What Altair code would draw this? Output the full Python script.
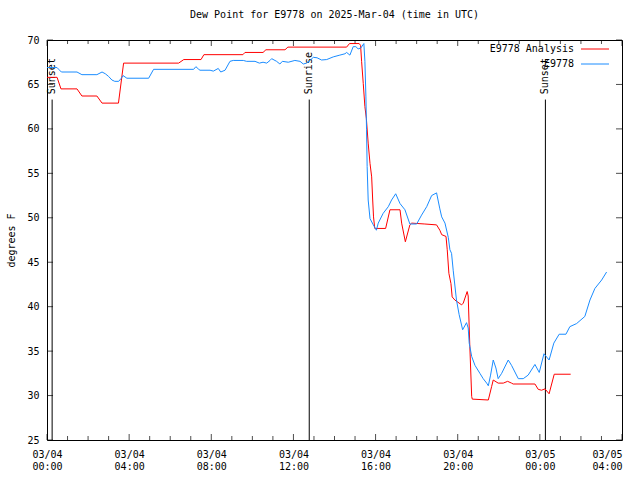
import altair as alt
import pandas as pd

BASE = pd.Timestamp("2025-03-04T00:00:00Z")


def ms(h):
    return int((BASE + pd.Timedelta(hours=h)).value // 10**6)


FONT = "DejaVu Sans Mono"

# ---- data (hours after 2025-03-04 00:00 UTC, dew point degF) ----
red_hours = [0.00, 0.49, 0.68, 1.46, 1.70, 2.43, 2.68, 3.48, 3.73, 6.41, 6.66, 7.50, 7.64,
             9.54, 9.64, 10.52, 10.66, 11.59, 11.73, 14.59, 14.73, 15.20, 15.27, 15.32,
             15.40, 15.48, 15.55, 15.64, 15.73, 15.81, 15.86, 15.90, 15.96, 16.49, 16.70,
             17.19, 17.27, 17.45, 17.67, 17.76, 18.40, 18.97, 19.13, 19.22, 19.43, 19.49,
             19.57, 19.67, 19.73, 19.86, 20.19, 20.27, 20.46, 20.51, 20.59, 20.68, 20.71,
             21.49, 21.65, 21.73, 21.97, 22.22, 22.43, 22.62, 22.70, 23.76, 23.92, 24.08,
             24.25, 24.45, 24.70, 25.50]
red_vals = [65.8, 65.8, 64.5, 64.5, 63.7, 63.7, 62.9, 62.9, 67.4, 67.4, 67.8, 67.8, 68.35,
            68.35, 68.6, 68.6, 68.9, 68.9, 69.2, 69.2, 69.6, 69.6, 69.4, 67.6,
            65.1, 62.5, 61.2, 58.4, 56.1, 54.6, 52.0, 50.1, 48.8, 48.8, 50.9,
            50.9, 49.4, 47.3, 49.2, 49.4, 49.3, 49.2, 48.6, 48.1, 47.9, 46.4,
            43.75, 42.6, 41.1, 40.75, 40.2, 40.4, 41.7, 41.2, 35.5, 29.9, 29.6,
            29.5, 31.0, 31.75, 31.4, 31.4, 31.6, 31.4, 31.3, 31.3, 30.7, 30.6,
            30.75, 30.2, 32.4, 32.4]

blue_hours = [0.00, 0.49, 0.57, 0.70, 1.46, 1.70, 2.43, 2.68, 2.84, 3.00, 3.16, 3.30, 3.49,
              3.62, 3.70, 3.89, 4.95, 5.19, 7.14, 7.25, 7.39, 7.45, 7.94, 8.10, 8.34, 8.46,
              8.67, 8.91, 9.07, 9.56, 9.72, 10.13, 10.34, 10.52, 10.70, 10.86, 10.94, 11.18,
              11.34, 11.46, 11.75, 12.07, 12.32, 12.48, 12.64, 12.80, 12.97, 13.15, 13.37,
              13.62, 13.94, 14.26, 14.51, 14.59, 14.75, 14.91, 15.04, 15.15, 15.28, 15.43,
              15.48, 15.53, 15.56, 15.59, 15.64, 15.73, 15.89, 16.04, 16.13, 16.37, 16.62,
              16.78, 16.98, 17.19, 17.43, 17.67, 18.00, 18.24, 18.49, 18.73, 18.97, 19.13,
              19.22, 19.38, 19.54, 19.62, 19.70, 19.78, 19.94, 20.07, 20.24, 20.43, 20.51,
              20.56, 20.68, 20.84, 21.08, 21.24, 21.41, 21.49, 21.60, 21.73, 21.86, 21.97,
              22.14, 22.46, 22.62, 22.95, 23.19, 23.43, 23.76, 23.97, 24.20, 24.45, 24.68,
              24.94, 25.27, 25.46, 25.79, 26.19, 26.44, 26.68, 27.01, 27.25]
blue_vals = [66.9, 66.9, 66.7, 66.4, 66.4, 66.1, 66.1, 66.4, 66.2, 65.9, 65.5, 65.35, 65.35,
             65.7, 66.0, 65.7, 65.7, 66.7, 66.7, 67.0, 66.7, 66.6, 66.6, 66.5, 66.8, 66.4,
             66.6, 67.6, 67.7, 67.7, 67.6, 67.6, 67.4, 67.5, 67.4, 67.7, 67.9, 67.6,
             67.3, 67.6, 67.5, 67.7, 67.6, 67.3, 67.4, 67.7, 68.05, 68.0, 67.75,
             67.8, 68.1, 68.3, 68.45, 68.6, 68.3, 69.25, 69.25, 69.0, 69.1, 69.6,
             67.6, 63.6, 59.9, 55.75, 52.0, 49.9, 49.2, 48.6, 49.4, 50.5, 51.25,
             52.0, 52.7, 51.6, 50.9, 49.3, 49.3, 50.3, 51.25, 52.5, 52.8, 51.0,
             50.1, 49.4, 47.8, 46.4, 46.0, 44.1, 40.75, 39.1, 37.4, 38.2, 37.6,
             35.9, 34.4, 33.4, 32.5, 31.9, 31.4, 31.1, 32.3, 34.0, 33.1, 31.9,
             32.5, 34.0, 33.4, 31.9, 31.9, 32.3, 33.5, 32.6, 34.7, 34.0, 35.9,
             36.9, 36.9, 37.75, 38.1, 38.9, 40.75, 42.05, 43.0, 43.9]

series_names = ["E9778 Analysis", "E9778"]
series_colors = ["#ff0000", "#1a8cff"]

event_hours = [0.25, 12.77, 24.27]
event_labels = ["Sunset", "Sunrise", "Sunset"]

x_start_h, x_end_h = 0, 28
x_major_hours = list(range(0, 29, 4))
x_minor_hours = [h for h in range(0, 29) if h % 4]
y_ticks = list(range(25, 71, 5))
y_min, y_max = 25, 70
event_line_top = 63.3
event_text_base = 63.9

# ---- tables ----
lines = pd.concat([
    pd.DataFrame({"t": [ms(h) for h in red_hours], "v": red_vals, "series": series_names[0]}),
    pd.DataFrame({"t": [ms(h) for h in blue_hours], "v": blue_vals, "series": series_names[1]}),
])
events = pd.DataFrame({"t": [ms(h) for h in event_hours], "label": event_labels})
xmaj = pd.DataFrame({"t": [ms(h) for h in x_major_hours]})
xmin = pd.DataFrame({"t": [ms(h) for h in x_minor_hours]})
yt = pd.DataFrame({"v": y_ticks})

end_ms = ms(x_end_h)
xscale = alt.Scale(type="utc", domain=[ms(x_start_h), end_ms])
yscale = alt.Scale(domain=[y_min, y_max], nice=False, zero=False)

xaxis = alt.Axis(
    values=[ms(h) for h in x_major_hours],
    labelExpr="[utcFormat(datum.value, '%m/%d'), utcFormat(datum.value, '%H:%M')]",
    labelAlign={"condition": {"test": f"datum.value >= {end_ms}", "value": "right"}, "value": "center"},
    labelFont=FONT, labelFontSize=10, labelColor="black", labelLineHeight=12,
    labelPadding=9, labelBaseline="top", labelFlush=False, labelOverlap=False,
    ticks=False, domain=False, grid=False, title=None,
)
yaxis = alt.Axis(
    values=y_ticks, labelFont=FONT, labelFontSize=10, labelColor="black",
    labelPadding=8, ticks=False, domain=False, grid=False,
    title="degrees F", titleFont=FONT, titleFontSize=10, titleFontWeight="normal",
    titleColor="black", titlePadding=10,
)

X = alt.X("t:T", scale=xscale, axis=xaxis)
Y = alt.Y("v:Q", scale=yscale, axis=yaxis)

line_layer = alt.Chart(lines).mark_line(strokeWidth=1, clip=True).encode(
    x=X, y=Y,
    color=alt.Color("series:N", scale=alt.Scale(domain=series_names, range=series_colors),
                    legend=None),
    order="t:Q",
)

ev_rule = alt.Chart(events).mark_rule(color="black", strokeWidth=1).encode(
    x=X, y=alt.datum(y_min), y2=alt.datum(event_line_top),
)
ev_text = alt.Chart(events).mark_text(angle=270, align="left", baseline="middle",
                                      font=FONT, fontSize=10, color="black").encode(
    x=X, y=alt.datum(event_text_base), text="label:N",
)

tick_style = dict(color="black", thickness=1)
xb_maj = alt.Chart(xmaj).mark_tick(orient="vertical", size=6, yOffset=-3, **tick_style).encode(
    x=X, y=alt.value(400))
xt_maj = alt.Chart(xmaj).mark_tick(orient="vertical", size=6, yOffset=3, **tick_style).encode(
    x=X, y=alt.value(0))
xb_min = alt.Chart(xmin).mark_tick(orient="vertical", size=4, yOffset=-2, **tick_style).encode(
    x=X, y=alt.value(400))
xt_min = alt.Chart(xmin).mark_tick(orient="vertical", size=4, yOffset=2, **tick_style).encode(
    x=X, y=alt.value(0))
yl = alt.Chart(yt).mark_tick(orient="horizontal", size=6, xOffset=3, **tick_style).encode(
    y=Y, x=alt.value(0))
yr = alt.Chart(yt).mark_tick(orient="horizontal", size=6, xOffset=-3, **tick_style).encode(
    y=Y, x=alt.value(575))

# ---- legend (top-right, label left of the line sample) ----
legend_layers = []
for i, (name, col) in enumerate(zip(series_names, series_colors)):
    ldf = pd.DataFrame({"name": [name]})
    row_y = 9 + 15 * i
    legend_layers.append(
        alt.Chart(ldf).mark_text(align="right", baseline="middle", font=FONT, fontSize=10,
                                 color="black").encode(
            x=alt.value(527), y=alt.value(row_y), text="name:N"))
    legend_layers.append(
        alt.Chart(ldf).mark_rule(color=col, strokeWidth=1).encode(
            x=alt.value(534), x2=alt.value(562), y=alt.value(row_y)))

chart = alt.layer(
    xb_maj, xt_maj, xb_min, xt_min, yl, yr, ev_rule, ev_text, line_layer, *legend_layers,
).properties(
    width=575, height=400,
    title=alt.TitleParams("Dew Point for E9778 on 2025-Mar-04 (time in UTC)", font=FONT,
                          fontSize=10, fontWeight="normal", color="black",
                          anchor="middle", frame="group", offset=15),
    padding={"left": 47, "top": 40, "right": 18, "bottom": 40},
    autosize=alt.AutoSizeParams(type="none"),
    background="white",
).configure_view(stroke="black", strokeWidth=1)

chart.save("out.html", embed_options={"renderer": "svg", "actions": False})
